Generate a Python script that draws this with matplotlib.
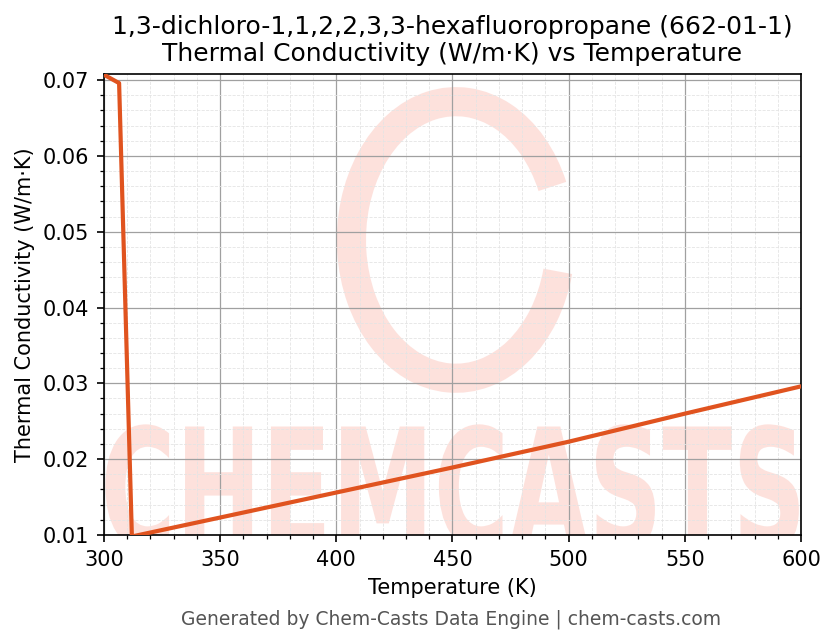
import numpy as np
import matplotlib.pyplot as plt
from matplotlib.patches import Arc, PathPatch
from matplotlib.textpath import TextPath
from matplotlib.font_manager import FontProperties
from matplotlib.transforms import Affine2D
from matplotlib.ticker import MultipleLocator, AutoMinorLocator

# data
temps = [300, 306.5, 312, 350, 400, 450, 500, 550, 600]
conductivity = [0.0707, 0.0696, 0.0098, 0.0123, 0.0156, 0.0189, 0.0223, 0.0260, 0.0296]

title = "1,3-dichloro-1,1,2,2,3,3-hexafluoropropane (662-01-1)\nThermal Conductivity (W/m\u00b7K) vs Temperature"
footer = "Generated by Chem-Casts Data Engine | chem-casts.com"

fig = plt.figure(figsize=(836 / 150, 644 / 150), dpi=150)
ax = fig.add_axes([0.1244, 0.1693, 0.8337, 0.7158])

# watermark
wm = '#FDD5CE'
arc = Arc((0.505, 0.64), 0.30, 0.60, theta1=40, theta2=335, transform=ax.transAxes,
          color=wm, lw=14, alpha=0.7, zorder=0)
ax.add_patch(arc)
tp = TextPath((0, 0), "CHEMCASTS", size=1, prop=FontProperties(family='DejaVu Sans', weight='bold'))
ext = tp.get_extents()
sx = 0.995 / ext.width
sy = 0.27 / ext.height
tr = Affine2D().translate(-ext.x0, -ext.y0).scale(sx, sy).translate(0.002, -0.03) + ax.transAxes
ax.add_patch(PathPatch(tp, transform=tr, facecolor=wm, edgecolor='none', alpha=0.7, zorder=0))

ax.plot(temps, conductivity, color='#E0531F', lw=2, zorder=3)

ax.set_xlim(300, 600)
ax.set_ylim(0.01, 0.0708)
ax.xaxis.set_major_locator(MultipleLocator(50))
ax.yaxis.set_major_locator(MultipleLocator(0.01))
ax.xaxis.set_minor_locator(AutoMinorLocator(5))
ax.yaxis.set_minor_locator(AutoMinorLocator(5))
ax.yaxis.set_major_formatter(plt.FormatStrFormatter('%.2f'))
ax.set_axisbelow(True)
ax.grid(which='major', color='#a0a0a0', lw=0.6)
ax.grid(which='minor', color='#e4e4e4', lw=0.4, ls='--')
ax.tick_params(labelsize=10)

ax.set_xlabel("Temperature (K)", fontsize=10)
ax.set_ylabel("Thermal Conductivity (W/m\u00b7K)", fontsize=10)
ax.set_title(title, fontsize=12)
fig.text(0.54, 0.038, footer, ha='center', va='center', fontsize=9, color='#555555')

fig.savefig("out.png", dpi=150)
